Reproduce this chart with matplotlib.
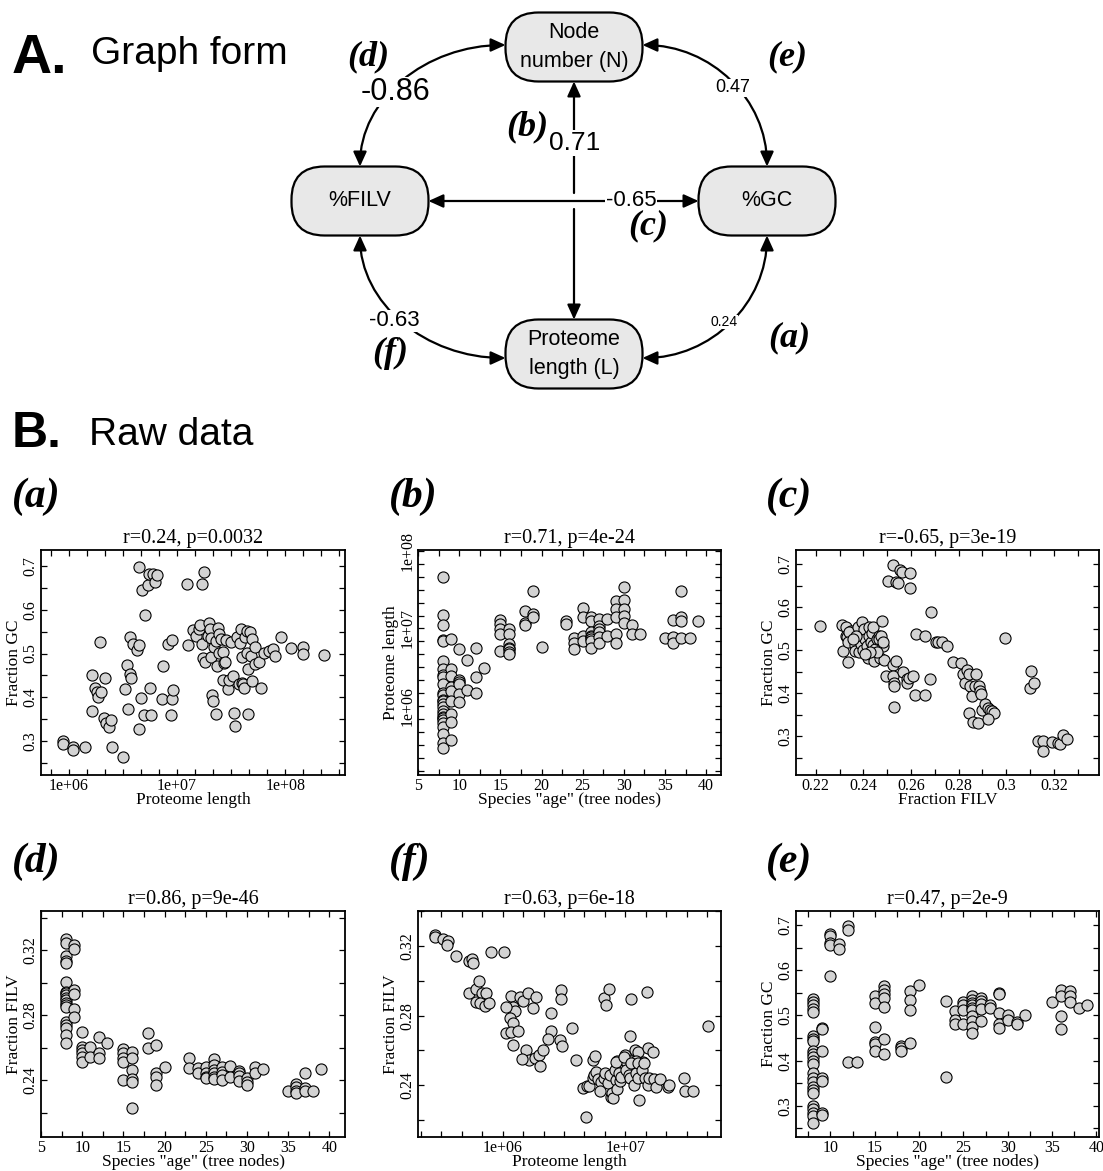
import numpy as np
import matplotlib.pyplot as plt
from matplotlib.patches import FancyBboxPatch, FancyArrowPatch
from matplotlib.path import Path
from matplotlib.ticker import FixedLocator, FixedFormatter, NullFormatter, MultipleLocator

SANS = ['Liberation Sans', 'DejaVu Sans']
SERIF = ['Liberation Serif', 'DejaVu Serif']
plt.rcParams['font.family'] = SERIF

# ---------------- data ----------------
# graph edges: correlation per panel letter
edge_r = {'a': 0.24, 'b': 0.71, 'c': -0.65, 'd': -0.86, 'e': 0.47, 'f': -0.63}
node_labels = {'N': 'Node\nnumber (N)', 'F': '%FILV', 'G': '%GC', 'L': 'Proteome\nlength (L)'}

titles = {'a': 'r=0.24, p=0.0032', 'b': 'r=0.71, p=4e-24', 'c': 'r=-0.65, p=3e-19',
          'd': 'r=0.86, p=9e-46', 'f': 'r=0.63, p=6e-18', 'e': 'r=0.47, p=2e-9'}

# (a) proteome length (millions) vs fraction GC
pts_a = np.array([
    (0.88, 0.300), (0.88, 0.293), (1.10, 0.287), (1.10, 0.280), (1.40, 0.287),
    (1.64, 0.451), (1.64, 0.369), (1.75, 0.422), (1.80, 0.411), (1.85, 0.401),
    (1.99, 0.413), (1.95, 0.527), (2.17, 0.444), (2.11, 0.352), (2.22, 0.340),
    (2.33, 0.332), (2.47, 0.349), (2.52, 0.287), (3.18, 0.263), (3.32, 0.418),
    (3.47, 0.473), (3.52, 0.374), (3.67, 0.453), (3.78, 0.444), (3.67, 0.537),
    (3.94, 0.521), (4.23, 0.508), (4.42, 0.520), (4.42, 0.327), (4.64, 0.398),
    (4.45, 0.698), (4.74, 0.646), (5.02, 0.589), (5.39, 0.657), (5.54, 0.682),
    (6.04, 0.683), (6.21, 0.663), (6.58, 0.679), (4.95, 0.360), (5.78, 0.360),
    (5.62, 0.421), (7.41, 0.471), (7.26, 0.395), (8.26, 0.521), (9.06, 0.531),
    (9.06, 0.395), (9.18, 0.416), (8.87, 0.360),
    (12.6, 0.520), (12.4, 0.660), (14.1, 0.554), (14.9, 0.540), (16.0, 0.556),
    (16.3, 0.566), (16.9, 0.660), (17.6, 0.687), (16.9, 0.521), (17.4, 0.489),
    (18.0, 0.480), (19.1, 0.540), (19.9, 0.569), (20.2, 0.556), (20.6, 0.535),
    (20.6, 0.491), (21.0, 0.405), (21.4, 0.391), (22.1, 0.514), (22.9, 0.529),
    (22.9, 0.361), (23.2, 0.472), (23.7, 0.558), (24.2, 0.544), (24.6, 0.502),
    (25.4, 0.534), (26.3, 0.440), (26.6, 0.504), (27.3, 0.479), (27.7, 0.481),
    (28.3, 0.531), (29.3, 0.418), (30.3, 0.440), (31.4, 0.527), (32.9, 0.449),
    (33.5, 0.365), (34.4, 0.334), (36.0, 0.537), (37.4, 0.431), (38.4, 0.524),
    (39.0, 0.556), (39.7, 0.491), (40.1, 0.433), (40.8, 0.431), (41.6, 0.422),
    (42.4, 0.537), (44.0, 0.552), (44.7, 0.502), (45.4, 0.464), (45.7, 0.361),
    (46.8, 0.550), (47.8, 0.494), (49.4, 0.437), (49.4, 0.533), (52.0, 0.514),
    (53.0, 0.476), (57.3, 0.480), (59.9, 0.422), (63.0, 0.502), (70.0, 0.506),
    (77.8, 0.510), (80.5, 0.495), (91.4, 0.538), (114, 0.512), (146, 0.516),
    (146, 0.498), (229, 0.497),
])

# (b) tree nodes -> proteome lengths (millions)
b_len = {
    8: [46.3, 14.8, 11.2, 7.07, 6.94, 3.83, 3.00, 2.52, 2.40, 1.92, 1.46, 1.40, 1.19,
        1.17, 1.06, 0.98, 0.87, 0.79, 0.73, 0.716, 0.662, 0.617, 0.543, 0.436, 0.34, 0.294],
    9: [7.29, 3.00, 2.46, 1.78, 1.58, 1.17, 0.79, 0.636, 0.365],
    10: [5.52, 2.16, 2.02, 1.96, 1.43, 1.12],
    11: [3.99, 1.61],
    12: [5.69, 2.40, 1.50],
    13: [3.09],
    15: [12.8, 11.4, 9.8, 8.45, 5.16],
    16: [9.8, 8.45, 6.29, 5.69, 5.42, 4.91, 4.67],
    18: [16.9, 11.9, 11.0],
    19: [30.5, 15.3, 14.1],
    20: [5.86],
    23: [12.3, 11.4],
    24: [7.44, 6.41, 5.52],
    25: [18.6, 14.1, 8.04, 6.94],
    26: [13.9, 12.6, 8.88, 8.04, 7.66, 7.29, 6.94, 5.69],
    27: [13.2, 10.8, 9.8, 8.88, 7.66, 6.60],
    28: [13.2, 8.04],
    29: [22.7, 17.7, 13.9, 8.45, 6.41],
    30: [34.3, 23.2, 17.7, 14.6, 11.9],
    31: [11.0, 8.45],
    32: [8.45],
    35: [7.51],
    36: [12.8, 7.81, 6.41],
    37: [30.5, 13.9, 12.6, 7.51],
    38: [7.51],
    39: [12.3],
}

# (c) fraction FILV vs fraction GC
pts_c = np.array([
    (0.2219, 0.557), (0.2310, 0.559), (0.2328, 0.555), (0.2314, 0.498), (0.2336, 0.473),
    (0.2325, 0.534), (0.2331, 0.530), (0.2349, 0.545), (0.2340, 0.543), (0.2335, 0.518),
    (0.2363, 0.512), (0.2365, 0.498), (0.2376, 0.553), (0.2383, 0.495), (0.2388, 0.514),
    (0.2394, 0.566), (0.2397, 0.538), (0.2400, 0.501), (0.2404, 0.549), (0.2408, 0.526),
    (0.2414, 0.510), (0.2418, 0.483), (0.2422, 0.534), (0.2425, 0.553), (0.2432, 0.518),
    (0.2436, 0.541), (0.2439, 0.555), (0.2439, 0.487), (0.2442, 0.512), (0.2446, 0.475),
    (0.2450, 0.502), (0.2456, 0.526), (0.2464, 0.532), (0.2467, 0.526), (0.2469, 0.483),
    (0.2474, 0.534), (0.2478, 0.569), (0.2481, 0.510), (0.2483, 0.518), (0.2488, 0.477),
    (0.2457, 0.495), (0.2369, 0.532), (0.2356, 0.526), (0.2429, 0.495), (0.2408, 0.491),
    (0.2526, 0.698), (0.2553, 0.686), (0.2564, 0.682), (0.2596, 0.679), (0.2504, 0.661),
    (0.2536, 0.659), (0.2547, 0.656), (0.2594, 0.645),
    (0.2686, 0.589), (0.2622, 0.537), (0.2661, 0.532), (0.2706, 0.520), (0.2714, 0.520),
    (0.2731, 0.518), (0.2751, 0.510), (0.2994, 0.528),
    (0.2497, 0.441), (0.2525, 0.465), (0.2536, 0.475), (0.2525, 0.440), (0.2529, 0.424),
    (0.2529, 0.416), (0.2529, 0.367), (0.2567, 0.450), (0.2585, 0.432), (0.2585, 0.424),
    (0.2592, 0.436), (0.2608, 0.440), (0.2617, 0.397), (0.2661, 0.397), (0.2678, 0.432),
    (0.2775, 0.473), (0.2811, 0.471), (0.2817, 0.444), (0.2825, 0.423), (0.2835, 0.454),
    (0.2842, 0.444), (0.2849, 0.418), (0.2856, 0.393), (0.2872, 0.444), (0.2869, 0.416),
    (0.2886, 0.418), (0.2890, 0.405), (0.2894, 0.398), (0.2844, 0.354), (0.2862, 0.334),
    (0.2883, 0.330), (0.2897, 0.362), (0.2911, 0.376), (0.2922, 0.366), (0.2932, 0.360),
    (0.2939, 0.358), (0.2950, 0.354), (0.2925, 0.340),
    (0.3099, 0.413), (0.3106, 0.452), (0.3117, 0.424), (0.3133, 0.289), (0.3154, 0.289),
    (0.3154, 0.266), (0.3192, 0.287), (0.3217, 0.284), (0.3228, 0.282), (0.3238, 0.303),
    (0.3256, 0.294),
])

# (d) tree nodes -> fraction FILV
d_filv = {
    8: [0.3266, 0.3241, 0.3163, 0.3134, 0.3118, 0.3005, 0.2944, 0.2933, 0.2923, 0.2907,
        0.2892, 0.2876, 0.2861, 0.2851, 0.2759, 0.2738, 0.2718, 0.2677, 0.2630],
    9: [0.3231, 0.3204, 0.2954, 0.2929, 0.2835, 0.2790],
    10: [0.2693, 0.2605, 0.2585, 0.2568, 0.2544, 0.2513],
    11: [0.2601, 0.2544],
    12: [0.2667, 0.2568, 0.2533],
    13: [0.2626],
    15: [0.2589, 0.2568, 0.2533, 0.2513, 0.2400],
    16: [0.2574, 0.2533, 0.2462, 0.2404, 0.2390, 0.2226],
    18: [0.2687, 0.2595],
    19: [0.2615, 0.2445, 0.2421, 0.2369],
    20: [0.2482],
    23: [0.2533, 0.2476],
    24: [0.2476, 0.2445],
    25: [0.2482, 0.2441, 0.2421, 0.2410],
    26: [0.2527, 0.2492, 0.2462, 0.2441, 0.2421, 0.2404],
    27: [0.2478, 0.2451, 0.2431, 0.2400],
    28: [0.2486, 0.2421],
    29: [0.2457, 0.2445, 0.2425, 0.2396],
    30: [0.2410, 0.2390, 0.2369],
    31: [0.2478, 0.2445],
    32: [0.2466],
    35: [0.2334],
    36: [0.2379, 0.2355, 0.2334, 0.2318],
    37: [0.2445, 0.2349, 0.2334],
    38: [0.2334],
    39: [0.2470],
}

# (f) proteome length (millions) vs fraction FILV
pts_f = np.array([
    (0.284, 0.3263), (0.284, 0.3250), (0.328, 0.3238), (0.360, 0.3231), (0.356, 0.3206),
    (0.421, 0.3144), (0.531, 0.3116), (0.564, 0.3123), (0.575, 0.3104), (0.801, 0.3164),
    (1.03, 0.3164), (0.531, 0.2932), (0.613, 0.2951), (0.640, 0.3001), (0.681, 0.2932),
    (0.739, 0.2932), (0.605, 0.2880), (0.652, 0.2875), (0.716, 0.2856), (0.772, 0.2871),
    (1.165, 0.2913), (1.217, 0.2852), (1.256, 0.2829), (1.074, 0.2852), (1.144, 0.2785),
    (1.217, 0.2756), (1.379, 0.2905), (1.467, 0.2886), (1.611, 0.2928), (1.883, 0.2909),
    (1.771, 0.2842), (2.46, 0.2817), (2.97, 0.2947), (3.01, 0.2894), (1.074, 0.2699),
    (1.18, 0.2708), (1.34, 0.2714), (1.217, 0.2632), (2.46, 0.2714), (2.34, 0.2664),
    (2.91, 0.2660), (3.04, 0.2626), (3.67, 0.2727), (1.562, 0.2599), (1.632, 0.2542),
    (1.824, 0.2555), (1.967, 0.2574), (2.13, 0.2599), (2.0, 0.2507), (1.44, 0.2549),
    (3.98, 0.2545), (5.44, 0.2545), (5.68, 0.2565), (6.68, 0.2900), (6.97, 0.2861),
    (7.29, 0.2951), (11.1, 0.2894), (15.0, 0.2938), (46.9, 0.2741), (11.0, 0.2685),
    (11.9, 0.2599), (12.6, 0.2588), (15.2, 0.2612), (16.7, 0.2588), (9.85, 0.2574),
    (8.6, 0.2536), (10.1, 0.2536), (11.1, 0.2536), (12.3, 0.2536), (13.9, 0.2530),
    (4.50, 0.2385), (4.88, 0.2394), (5.10, 0.2394), (4.79, 0.2217), (5.42, 0.2438),
    (5.60, 0.2458), (5.78, 0.2477), (6.0, 0.2433), (6.34, 0.2419), (6.27, 0.2367),
    (6.75, 0.2438), (6.83, 0.2467), (7.2, 0.2410), (7.56, 0.2458), (7.66, 0.2332),
    (7.75, 0.2352), (8.0, 0.2327), (8.4, 0.2429), (8.6, 0.2380), (8.2, 0.2487),
    (8.4, 0.2535), (8.8, 0.2467), (9.1, 0.2425), (9.2, 0.2448), (9.8, 0.2564),
    (10.1, 0.2487), (10.6, 0.2458), (11.0, 0.2438), (11.1, 0.2525), (11.8, 0.2400),
    (12.2, 0.2471), (12.6, 0.2529), (12.7, 0.2438), (13.0, 0.2313), (13.6, 0.2487),
    (14.1, 0.2529), (14.5, 0.2438), (15.2, 0.2400), (15.7, 0.2438), (17.2, 0.2433),
    (17.8, 0.2390), (19.2, 0.2433), (22.1, 0.2390), (22.8, 0.2400), (30.1, 0.2438),
    (30.6, 0.2367), (35.2, 0.2367),
])

# (e) tree nodes -> fraction GC
e_gc = {
    8: [0.537, 0.530, 0.522, 0.515, 0.508, 0.455, 0.448, 0.443, 0.422, 0.415, 0.408, 0.400,
        0.392, 0.372, 0.362, 0.352, 0.342, 0.335, 0.328, 0.300, 0.292, 0.285, 0.278, 0.263],
    9: [0.472, 0.470, 0.421, 0.362, 0.355, 0.285, 0.280],
    10: [0.680, 0.675, 0.660, 0.655, 0.588],
    11: [0.659, 0.647],
    12: [0.698, 0.688, 0.396],
    13: [0.396],
    15: [0.543, 0.527, 0.474, 0.441, 0.437, 0.422],
    16: [0.564, 0.556, 0.547, 0.539, 0.519, 0.448, 0.415],
    18: [0.433, 0.428, 0.421],
    19: [0.553, 0.533, 0.513, 0.440],
    20: [0.567],
    23: [0.532, 0.363],
    24: [0.509, 0.490, 0.480],
    25: [0.530, 0.522, 0.511, 0.480],
    26: [0.542, 0.535, 0.527, 0.522, 0.517, 0.511, 0.498, 0.487, 0.474, 0.461],
    27: [0.539, 0.532, 0.526, 0.515, 0.487],
    28: [0.524, 0.516],
    29: [0.550, 0.547, 0.505, 0.480, 0.473],
    30: [0.502, 0.490],
    31: [0.485, 0.480],
    32: [0.502],
    35: [0.530],
    36: [0.557, 0.542, 0.498, 0.470],
    37: [0.554, 0.542, 0.530],
    38: [0.517],
    39: [0.522],
}


def flatten(d):
    xs = [k for k, v in d.items() for _ in v]
    ys = [y for v in d.values() for y in v]
    return np.array(xs, float), np.array(ys, float)


# ---------------- figure ----------------
W, H = 1103, 1171
fig = plt.figure(figsize=(W / 100, H / 100), dpi=100)

# panel A drawn in pixel space
ax0 = fig.add_axes([0, 0, 1, 1])
ax0.set_xlim(0, W)
ax0.set_ylim(H, 0)
ax0.axis('off')

ax0.text(12, 73, 'A.', fontsize=40, weight='bold', family=SANS, va='baseline')
ax0.text(91, 64, 'Graph form', fontsize=28, family=SANS, va='baseline')
ax0.text(12, 447, 'B.', fontsize=36, weight='bold', family=SANS, va='baseline')
ax0.text(89, 445, 'Raw data', fontsize=28, family=SANS, va='baseline')

centers = {'N': (574, 47), 'F': (360, 201), 'G': (767, 201), 'L': (574, 354)}
bw, bh = 137, 69
for key, (cx, cy) in centers.items():
    ax0.add_patch(FancyBboxPatch((cx - bw / 2, cy - bh / 2), bw, bh,
                                 boxstyle='round,pad=0,rounding_size=33',
                                 fc='#e8e8e8', ec='k', lw=1.6, zorder=2))
    ax0.text(cx, cy, node_labels[key], ha='center', va='center', fontsize=15.5,
             family=SANS, linespacing=1.45, zorder=3)

astyle = 'head_length=0.55,head_width=0.25'


def arrow(verts, codes, style):
    ax0.add_patch(FancyArrowPatch(path=Path(verts, codes), arrowstyle=style + ',' + astyle,
                                  mutation_scale=16, lw=1.6, color='k', zorder=1))


k = 0.5523
C = [Path.MOVETO, Path.CURVE4, Path.CURVE4, Path.CURVE4]
L2 = [Path.MOVETO, Path.LINETO]
nl, nr = 574 - bw / 2, 574 + bw / 2
fl, gl = 360 + bw / 2, 767 - bw / 2
ft, fb = 201 - bh / 2, 201 + bh / 2
# curved edges
arrow([(nl, 45), (nl - k * (nl - 360), 45), (360, ft - k * (ft - 45)), (360, ft)], C, '<|-|>')
arrow([(nr, 45), (nr + k * (767 - nr), 45), (767, ft - k * (ft - 45)), (767, ft)], C, '<|-|>')
arrow([(360, fb), (360, fb + k * (358 - fb)), (nl - k * (nl - 360), 358), (nl, 358)], C, '<|-|>')
arrow([(767, fb), (767, fb + k * (358 - fb)), (nr + k * (767 - nr), 358), (nr, 358)], C, '<|-|>')
# straight edges
arrow([(574, 193), (574, 47 + bh / 2)], L2, '-|>')
arrow([(574, 209), (574, 354 - bh / 2)], L2, '-|>')
arrow([(fl, 201), (gl, 201)], L2, '<|-|>')

edge_text = {'d': (395, 92, 22), 'b': (575, 143, 19), 'e': (733, 88, 13),
             'c': (631, 200, 16), 'f': (394, 321, 16), 'a': (724, 322, 10)}
letter_pos = {'d': (368, 57), 'b': (527, 127), 'e': (787, 57),
              'c': (648, 226), 'f': (390, 353), 'a': (789, 338)}
for key, (tx, ty, fs) in edge_text.items():
    ax0.text(tx, ty, f'{edge_r[key]:.2f}', ha='center', va='center', fontsize=fs,
             family=SANS, zorder=4,
             bbox=dict(fc='white', ec='none', pad=0.3))
    lx, ly = letter_pos[key]
    ax0.text(lx, ly, f'({key})', ha='center', va='center', fontsize=26,
             weight='bold', style='italic', family=SERIF, zorder=4)

# ---------------- panel B scatter plots ----------------
cols = [(41, 345), (418, 721), (796, 1099)]
rows = [(550, 775), (911, 1137)]
letter_x = [12, 389, 766]
letter_y = [497, 862]


def r_axes(col, row):
    x0, x1 = cols[col]
    y0, y1 = rows[row]
    return fig.add_axes([x0 / W, 1 - y1 / H, (x1 - x0) / W, (y1 - y0) / H])


def finish(ax, key, xlabel, ylabel, col, row):
    ax.set_title(titles[key], fontsize=14.5, pad=5)
    ax.set_xlabel(xlabel, fontsize=12.5, labelpad=-1)
    ax.set_ylabel(ylabel, fontsize=12.5, labelpad=0)
    ax.tick_params(which='both', direction='in', top=True, right=True,
                   labelsize=11.5, pad=2, width=0.9, length=4)
    ax.tick_params(axis='y', labelrotation=90)
    for lbl in ax.get_yticklabels():
        lbl.set_va('center')
    for sp in ax.spines.values():
        sp.set_linewidth(1.3)
    ax0.text(letter_x[col], letter_y[row], f'({key})',
             fontsize=30, weight='bold', style='italic', va='center', ha='left')


def dots(ax, x, y):
    ax.scatter(x, y, s=64, c='#d3d3d3', edgecolors='k', linewidths=0.8, zorder=3)


def log_axis(axis, lo, hi, labels):
    # labelled ticks at each decade, unlabelled ones every sixth of a decade
    axis.set_major_locator(FixedLocator([10.0 ** e for e in range(lo, hi + 1)]))
    axis.set_major_formatter(FixedFormatter(labels))
    axis.set_minor_locator(FixedLocator(10 ** np.arange(lo - 1, hi + 1, 1 / 6)))
    axis.set_minor_formatter(NullFormatter())


# (a)
ax = r_axes(0, 0)
dots(ax, pts_a[:, 0] * 1e6, pts_a[:, 1])
ax.set_xscale('log')
ax.set_xlim(10 ** 5.742, 10 ** 8.552)
ax.set_ylim(0.222, 0.737)
log_axis(ax.xaxis, 6, 8, ['1e+06', '1e+07', '1e+08'])
ax.yaxis.set_major_locator(FixedLocator([0.3, 0.4, 0.5, 0.6, 0.7]))
ax.yaxis.set_major_formatter(FixedFormatter(['0.3', '0.4', '0.5', '0.6', '0.7']))
ax.yaxis.set_minor_locator(MultipleLocator(0.05))
finish(ax, 'a', 'Proteome length', 'Fraction GC', 0, 0)

# (b)
bx, by = flatten(b_len)
ax = r_axes(1, 0)
dots(ax, bx, by * 1e6)
ax.set_yscale('log')
ax.set_xlim(5, 41.8)
ax.set_ylim(10 ** 5.116, 10 ** 8.009)
log_axis(ax.yaxis, 6, 8, ['1e+06', '1e+07', '1e+08'])
ax.xaxis.set_major_locator(MultipleLocator(5))
ax.xaxis.set_minor_locator(MultipleLocator(2.5))
finish(ax, 'b', 'Species "age" (tree nodes)', 'Proteome length', 1, 0)

# (c)
ax = r_axes(2, 0)
dots(ax, pts_c[:, 0], pts_c[:, 1])
ax.set_xlim(0.2117, 0.339)
ax.set_ylim(0.21, 0.733)
ax.xaxis.set_major_locator(FixedLocator([0.22, 0.24, 0.26, 0.28, 0.30, 0.32]))
ax.xaxis.set_major_formatter(FixedFormatter(['0.22', '0.24', '0.26', '0.28', '0.3', '0.32']))
ax.xaxis.set_minor_locator(MultipleLocator(0.01))
ax.yaxis.set_major_locator(FixedLocator([0.3, 0.4, 0.5, 0.6, 0.7]))
ax.yaxis.set_major_formatter(FixedFormatter(['0.3', '0.4', '0.5', '0.6', '0.7']))
ax.yaxis.set_minor_locator(MultipleLocator(0.05))
finish(ax, 'c', 'Fraction FILV', 'Fraction GC', 2, 0)

# (d)
dx, dy = flatten(d_filv)
ax = r_axes(0, 1)
dots(ax, dx, dy)
ax.set_xlim(5, 41.9)
ax.set_ylim(0.205, 0.344)
ax.xaxis.set_major_locator(MultipleLocator(5))
ax.xaxis.set_minor_locator(MultipleLocator(2.5))
ax.yaxis.set_major_locator(FixedLocator([0.24, 0.28, 0.32]))
ax.yaxis.set_major_formatter(FixedFormatter(['0.24', '0.28', '0.32']))
ax.yaxis.set_minor_locator(FixedLocator([0.22, 0.26, 0.30, 0.34]))
finish(ax, 'd', 'Species "age" (tree nodes)', 'Fraction FILV', 0, 1)

# (f)
ax = r_axes(1, 1)
dots(ax, pts_f[:, 0] * 1e6, pts_f[:, 1])
ax.set_xscale('log')
ax.set_xlim(2.05e5, 6.0e7)
ax.set_ylim(0.2101, 0.3402)
log_axis(ax.xaxis, 6, 7, ['1e+06', '1e+07'])
ax.yaxis.set_major_locator(FixedLocator([0.24, 0.28, 0.32]))
ax.yaxis.set_major_formatter(FixedFormatter(['0.24', '0.28', '0.32']))
ax.yaxis.set_minor_locator(FixedLocator([0.22, 0.26, 0.30, 0.34]))
finish(ax, 'f', 'Proteome length', 'Fraction FILV', 1, 1)

# (e)
ex, ey = flatten(e_gc)
ax = r_axes(2, 1)
dots(ax, ex, ey)
ax.set_xlim(6.12, 40.3)
ax.set_ylim(0.231, 0.731)
ax.xaxis.set_major_locator(FixedLocator([10, 15, 20, 25, 30, 35, 40]))
ax.xaxis.set_minor_locator(MultipleLocator(2.5))
ax.yaxis.set_major_locator(FixedLocator([0.3, 0.4, 0.5, 0.6, 0.7]))
ax.yaxis.set_major_formatter(FixedFormatter(['0.3', '0.4', '0.5', '0.6', '0.7']))
ax.yaxis.set_minor_locator(MultipleLocator(0.05))
finish(ax, 'e', 'Species "age" (tree nodes)', 'Fraction GC', 2, 1)

fig.savefig('out.png', dpi=100)
